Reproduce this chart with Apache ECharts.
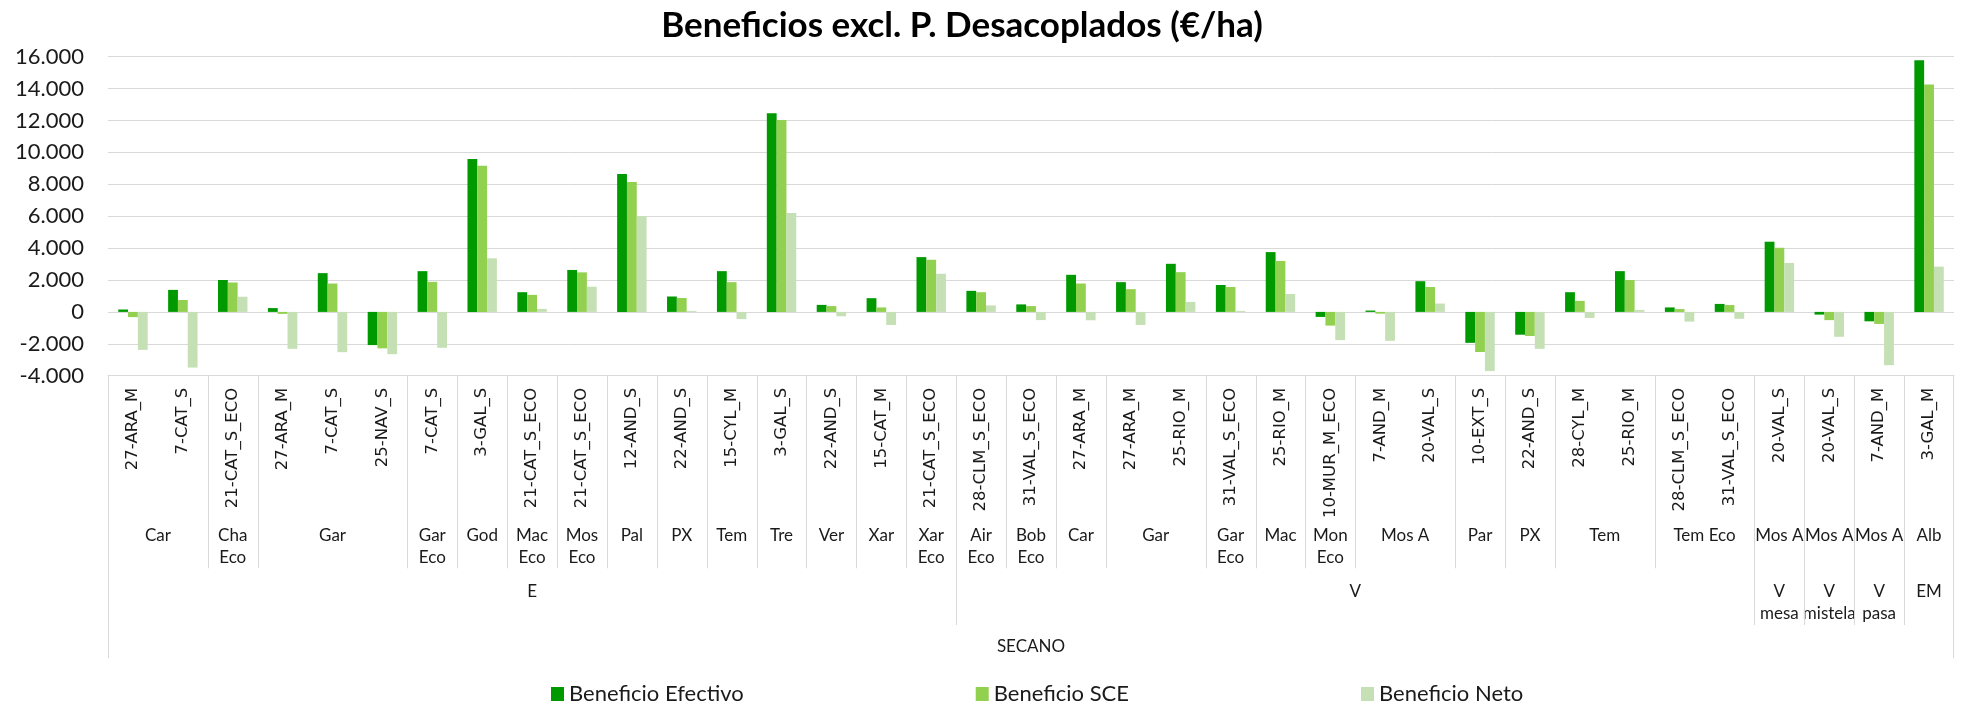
<!DOCTYPE html>
<html>
<head>
<meta charset="utf-8">
<title>Beneficios excl. P. Desacoplados</title>
<script src="https://cdn.jsdelivr.net/npm/echarts@6/dist/echarts.min.js"></script>
<style>
  html, body { margin: 0; padding: 0; background: #ffffff; }
  #main { width: 1966px; height: 705px; }
</style>
</head>
<body>
<div id="main"></div>
<script>
// nivel 1: explotación tipo
var categories = [
  '27-ARA_M', '7-CAT_S', '21-CAT_S_ECO', '27-ARA_M', '7-CAT_S', '25-NAV_S', '7-CAT_S',
  '3-GAL_S', '21-CAT_S_ECO', '21-CAT_S_ECO', '12-AND_S', '22-AND_S', '15-CYL_M', '3-GAL_S',
  '22-AND_S', '15-CAT_M', '21-CAT_S_ECO',
  '28-CLM_S_ECO', '31-VAL_S_ECO', '27-ARA_M', '27-ARA_M', '25-RIO_M', '31-VAL_S_ECO',
  '25-RIO_M', '10-MUR_M_ECO', '7-AND_M', '20-VAL_S', '10-EXT_S', '22-AND_S', '28-CYL_M',
  '25-RIO_M', '28-CLM_S_ECO', '31-VAL_S_ECO',
  '20-VAL_S', '20-VAL_S', '7-AND_M', '3-GAL_M'
];

// nivel 2: variedad
var level2Names = [
  'Car', 'Cha\nEco', 'Gar', 'Gar\nEco', 'God', 'Mac\nEco', 'Mos\nEco', 'Pal', 'PX', 'Tem', 'Tre', 'Ver', 'Xar', 'Xar\nEco',
  'Air\nEco', 'Bob\nEco', 'Car', 'Gar', 'Gar\nEco', 'Mac', 'Mon\nEco', 'Mos A', 'Par', 'PX', 'Tem', 'Tem Eco',
  'Mos A', 'Mos A', 'Mos A', 'Alb'
];
var level2Spans = [
  2, 1, 3, 1, 1, 1, 1, 1, 1, 1, 1, 1, 1, 1,
  1, 1, 1, 2, 1, 1, 1, 2, 1, 1, 2, 2,
  1, 1, 1, 1
];

// nivel 3: orientación
var level3Names = ['E', 'V', 'V\nmesa', 'V\nmistela', 'V\npasa', 'EM'];
var level3Spans = [17, 16, 1, 1, 1, 1];

// nivel 4
var level4Names = ['SECANO'];
var level4Spans = [37];

var seriesNames = ['Beneficio Efectivo', 'Beneficio SCE', 'Beneficio Neto'];

var beneficioEfectivo = [
  150, 1380, 2000, 240, 2430, -2080, 2555, 9590, 1235, 2630, 8650, 965, 2555, 12450,
  440, 860, 3435,
  1320, 470, 2325, 1865, 3015, 1685, 3750, -315, 85, 1925, -1940, -1430, 1235,
  2555, 280, 500,
  4400, -170, -590, 15770
];
var beneficioSCE = [
  -325, 745, 1845, -125, 1780, -2285, 1885, 9165, 1068, 2480, 8140, 870, 1865, 12030,
  365, 280, 3268,
  1235, 365, 1780, 1425, 2492, 1560, 3195, -860, -110, 1560, -2515, -1510, 692,
  2000, 175, 430,
  4020, -515, -755, 14250
];
var beneficioNeto = [
  -2380, -3490, 950, -2315, -2525, -2650, -2250, 3360, 189, 1580, 5990, 62, -450, 6200,
  -275, -818, 2390,
  408, -515, -525, -818, 628, 63, 1120, -1770, -1812, 524, -3710, -2315, -378,
  125, -608, -430,
  3068, -1560, -3340, 2838
];

var yMin = -4000, yMax = 16000, yStep = 2000;

var colores = ['#009900', '#92d050', '#c5e0b4'];
var gris = '#d9d9d9';
var txt = '#1a1a1a';

function miles(v) {
  var s = String(Math.abs(v)).replace(/\B(?=(\d{3})+(?!\d))/g, '.');
  return (v < 0 ? '-' : '') + s;
}

var chart = echarts.init(document.getElementById('main'));

var option = {
  animation: false,
  title: {
    text: 'Beneficios excl. P. Desacoplados (€/ha)',
    left: 957,
    top: 3,
    textAlign: 'center',
    textStyle: { fontFamily: 'Lato', fontWeight: 'bold', fontSize: 35, color: '#000' }
  },
  legend: {
    data: seriesNames,
    left: 546,
    top: 678,
    icon: 'rect',
    itemWidth: 13,
    itemHeight: 14,
    itemGap: 232,
    textStyle: { fontFamily: 'Lato', fontSize: 22, color: txt }
  },
  grid: { left: 108, right: 12, top: 56.7, bottom: 329.3 },
  xAxis: {
    type: 'category',
    data: categories,
    axisLine: { onZero: false, lineStyle: { color: gris } },
    axisTick: { show: false },
    axisLabel: {
      interval: 0,
      rotate: 90,
      margin: 12,
      fontFamily: 'DejaVu Sans',
      fontSize: 16.5,
      color: txt
    }
  },
  yAxis: {
    type: 'value',
    min: yMin,
    max: yMax,
    interval: yStep,
    axisLine: { show: false },
    axisTick: { show: false },
    axisLabel: { formatter: miles, fontFamily: 'Lato', fontSize: 22, color: txt, margin: 24 },
    splitLine: { lineStyle: { color: gris, width: 1 } }
  },
  series: [
    { name: seriesNames[0], type: 'bar', data: beneficioEfectivo, barGap: '0%', barCategoryGap: '41%', itemStyle: { color: colores[0] } },
    { name: seriesNames[1], type: 'bar', data: beneficioSCE, itemStyle: { color: colores[1] } },
    { name: seriesNames[2], type: 'bar', data: beneficioNeto, itemStyle: { color: colores[2] } }
  ]
};
chart.setOption(option);

// ejes jerárquicos dibujados a partir de la escala del eje x
var c0 = chart.convertToPixel({ xAxisIndex: 0 }, 0);
var bw = chart.convertToPixel({ xAxisIndex: 0 }, 1) - c0;
var yBase = chart.convertToPixel({ yAxisIndex: 0 }, yMin);
function borde(i) { return c0 - bw / 2 + i * bw; }

var graficos = [];
function linea(x, largo) {
  var px = Math.round(x) + 0.5;
  graficos.push({
    type: 'line', silent: true,
    shape: { x1: px, y1: yBase, x2: px, y2: yBase + largo },
    style: { stroke: gris, lineWidth: 1 }
  });
}
function nivel(nombres, spans, textoTop, largo, tam) {
  var ini = 0;
  for (var i = 0; i < nombres.length; i++) {
    var a = borde(ini), b = borde(ini + spans[i]);
    graficos.push({
      type: 'text', silent: true,
      style: {
        text: nombres[i], x: (a + b) / 2, y: yBase + textoTop,
        align: 'center', verticalAlign: 'top',
        fontFamily: 'Lato', fontSize: tam, lineHeight: 22, fill: txt
      }
    });
    if (i > 0) linea(a, largo);
    ini += spans[i];
  }
}
nivel(level2Names, level2Spans, 149, 192.6, 17);
nivel(level3Names, level3Spans, 205, 249.3, 17);
nivel(level4Names, level4Spans, 260, 282.6, 17);
linea(borde(0), 282.6);
linea(borde(categories.length) - 1, 282.6);

chart.setOption({ graphic: graficos });
</script>
</body>
</html>
